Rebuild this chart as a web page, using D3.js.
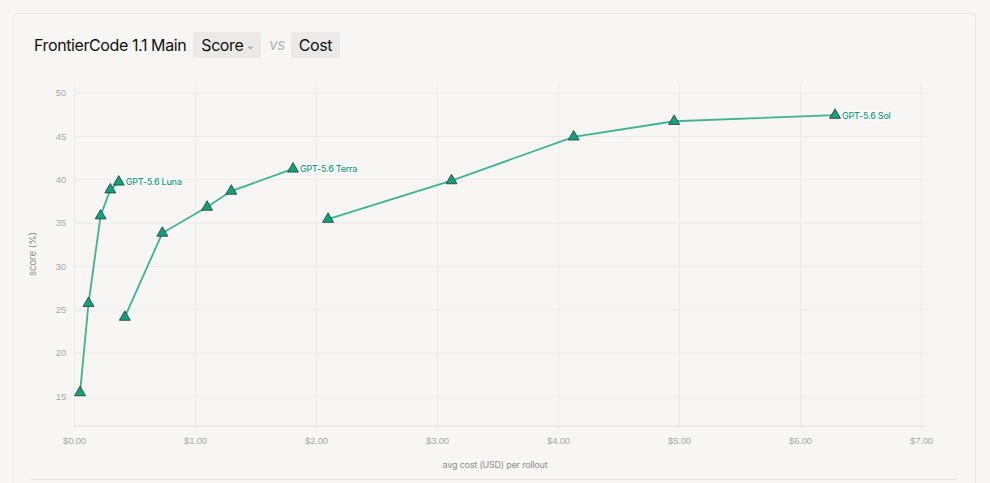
<!DOCTYPE html>
<html>
<head>
<meta charset="utf-8">
<script src="https://cdn.jsdelivr.net/npm/d3@7"></script>
<style>
  html, body { margin: 0; padding: 0; background: #f7f6f4; font-family: Inter, "Noto Sans", sans-serif; }
  .card {
    position: absolute; left: 13px; top: 13px; width: 963px; height: 500px;
    border: 1px solid #e9e7e4; border-radius: 4px; box-sizing: border-box;
  }
  .header { position: absolute; left: 34px; top: 31px; height: 27px; display: flex; align-items: center; font-size: 16px; color: #111; letter-spacing: -0.4px; }
  .pill { background: #ebeae8; padding: 0 8px; height: 26px; line-height: 26px; border-radius: 2px; }
  .vs { color: #b5b5b5; font-style: italic; margin: 0 6px 0 8px; font-size: 15px; }
  .chev { font-size: 8px; color: #777; margin-left: 4px; vertical-align: 2px; }
  svg { position: absolute; left: 0; top: 0; }
  .grid line { stroke: #ecebe8; }
  .grid .domain { display: none; }
  .tick text { fill: #a9a9a9; font-size: 9.5px; letter-spacing: -0.2px; }
  .pt-label { font-size: 9px; font-weight: 500; fill: #129c79; letter-spacing: -0.25px; paint-order: stroke; stroke: #fff; stroke-width: 3px; stroke-linejoin: round; }
  .bottom-rule { position: absolute; left: 30px; top: 479px; width: 927px; height: 1px; background: #e6e4e1; }
</style>
</head>
<body>
<div class="card"></div>
<div class="header">
  <span>FrontierCode 1.1 Main</span>
  <span class="pill" style="margin-left:7px">Score<span class="chev">&#8964;</span></span>
  <span class="vs">vs</span>
  <span class="pill">Cost</span>
</div>
<div class="bottom-rule"></div>
<div id="chart"></div>
<script>
// series: avg cost (USD) per rollout, score (%)
const lunaCost  = [0.05, 0.12, 0.22, 0.30, 0.37];
const lunaScore = [15.4, 25.7, 35.8, 38.8, 39.7];
const terraCost  = [0.42, 0.73, 1.10, 1.30, 1.81];
const terraScore = [24.1, 33.8, 36.8, 38.65, 41.2];
const solCost  = [2.10, 3.12, 4.13, 4.96, 6.29];
const solScore = [35.4, 39.85, 44.9, 46.7, 47.4];
const seriesNames = ["GPT-5.6 Luna", "GPT-5.6 Terra", "GPT-5.6 Sol"];

const xTicks = [0, 1, 2, 3, 4, 5, 6, 7];
const yTicks = [15, 20, 25, 30, 35, 40, 45, 50];

const series = [
  {name: seriesNames[0], pts: lunaCost.map((c, i) => ({c, s: lunaScore[i]}))},
  {name: seriesNames[1], pts: terraCost.map((c, i) => ({c, s: terraScore[i]}))},
  {name: seriesNames[2], pts: solCost.map((c, i) => ({c, s: solScore[i]}))}
];

const W = 990, H = 483;
const margin = {top: 82, right: 63, bottom: 57, left: 74};
const width = W - margin.left - margin.right;
const height = H - margin.top - margin.bottom;

const svg = d3.select("#chart").append("svg")
    .attr("width", W).attr("height", H);
const g = svg.append("g").attr("transform", `translate(${margin.left},${margin.top})`);

const x = d3.scaleLinear().domain([0, 7.05]).range([0, width]);
const y = d3.scaleLinear().domain([11.54, 51.23]).range([height, 0]);

// grid
g.append("g").attr("class", "grid")
    .call(d3.axisLeft(y).tickValues(yTicks).tickSize(-width).tickFormat(""));
g.append("g").attr("class", "grid")
    .attr("transform", `translate(0,${height})`)
    .call(d3.axisBottom(x).tickValues(xTicks).tickSize(height + 4).tickFormat(""))
    .selectAll("line").attr("y1", -height).attr("y2", 4);

// axis line along bottom
g.append("line")
    .attr("x1", 0).attr("x2", width).attr("y1", height).attr("y2", height)
    .attr("stroke", "#e2e0dd");

// tick labels
const yAxis = g.append("g")
    .call(d3.axisLeft(y).tickValues(yTicks).tickSize(0).tickPadding(8));
yAxis.select(".domain").remove();

const xAxis = g.append("g")
    .attr("transform", `translate(0,${height})`)
    .call(d3.axisBottom(x).tickValues(xTicks).tickSize(0).tickPadding(11)
        .tickFormat(d => "$" + d3.format(".2f")(d)));
xAxis.select(".domain").remove();

// axis titles
svg.append("text")
    .attr("x", 495).attr("y", 468)
    .attr("text-anchor", "middle")
    .attr("fill", "#8e8e8e").attr("font-size", 9).attr("letter-spacing", -0.2)
    .text("avg cost (USD) per rollout");
svg.append("text")
    .attr("transform", "translate(36,254) rotate(-90)")
    .attr("text-anchor", "middle")
    .attr("fill", "#8e8e8e").attr("font-size", 9.5)
    .text("score (%)");

// lines
const line = d3.line().x(d => x(d.c)).y(d => y(d.s));
g.selectAll(".line")
    .data(series)
    .enter().append("path")
    .attr("class", "line")
    .attr("fill", "none")
    .attr("stroke", "#3db393")
    .attr("stroke-width", 1.8)
    .attr("d", d => line(d.pts));

// markers
const tri = d3.symbol().type(d3.symbolTriangle).size(52);
g.selectAll(".dot")
    .data(series.flatMap(s => s.pts))
    .enter().append("path")
    .attr("class", "dot")
    .attr("transform", d => `translate(${x(d.c)},${y(d.s)})`)
    .attr("d", tri)
    .attr("fill", "#13a07c")
    .attr("stroke", "#1d3b33")
    .attr("stroke-width", 0.8);

// end labels
g.selectAll(".pt-label")
    .data(series)
    .enter().append("text")
    .attr("class", "pt-label")
    .attr("x", d => x(d.pts[d.pts.length - 1].c) + 7)
    .attr("y", d => y(d.pts[d.pts.length - 1].s) + 3.5)
    .text(d => d.name);
</script>
</body>
</html>
